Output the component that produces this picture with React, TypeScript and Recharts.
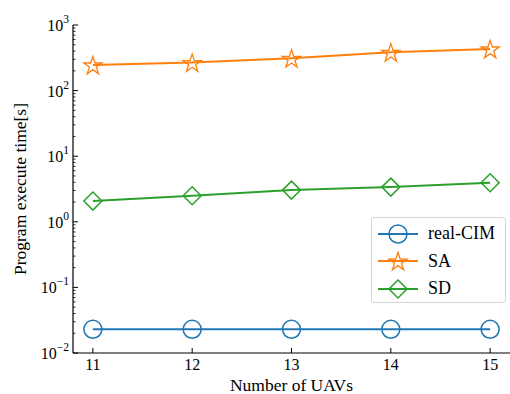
import { LineChart, Line, XAxis, YAxis, Legend } from 'recharts';

const uavCounts = [11, 12, 13, 14, 15];
const realCimTime = [0.023, 0.023, 0.023, 0.023, 0.023];
const saTime = [246, 267, 310, 384, 431];
const sdTime = [2.07, 2.49, 3.04, 3.38, 3.93];
const xTicks = [11, 12, 13, 14, 15];
const yExponents = [-2, -1, 0, 1, 2, 3];

const data = uavCounts.map((n, i) => ({
  n,
  realCim: realCimTime[i],
  sa: saTime[i],
  sd: sdTime[i],
}));

// major decades plus 2..9 minor ticks
const yTicks: number[] = [];
yExponents.forEach((e, i) => {
  yTicks.push(Math.pow(10, e));
  if (i < yExponents.length - 1) {
    for (let k = 2; k <= 9; k++) yTicks.push(k * Math.pow(10, e));
  }
});

const BLUE = '#1f77b4';
const ORANGE = '#ff7f0e';
const GREEN = '#2ca02c';
const FONT = "'Liberation Serif', 'Times New Roman', Times, serif";

const circleMark = (cx: number, cy: number, color: string, key?: any) => (
  <circle key={key} cx={cx} cy={cy} r={9} fill="none" stroke={color} strokeWidth={1.5} />
);

const starMark = (cx: number, cy: number, color: string, key?: any) => {
  const outer = 9.6;
  const inner = outer * 0.382;
  const pts: string[] = [];
  for (let i = 0; i < 10; i++) {
    const r = i % 2 === 0 ? outer : inner;
    const a = -Math.PI / 2 + (i * Math.PI) / 5;
    pts.push(`${cx + r * Math.cos(a)},${cy + r * Math.sin(a) + 1}`);
  }
  return <polygon key={key} points={pts.join(' ')} fill="none" stroke={color} strokeWidth={1.3} strokeLinejoin="miter" />;
};

const diamondMark = (cx: number, cy: number, color: string, key?: any) => {
  const d = 9;
  return (
    <polygon
      key={key}
      points={`${cx},${cy - d} ${cx + d},${cy} ${cx},${cy + d} ${cx - d},${cy}`}
      fill="none"
      stroke={color}
      strokeWidth={1.5}
    />
  );
};

const XTick = (props: any) => {
  const { x, y, payload } = props;
  return (
    <g>
      <line x1={x} y1={y} x2={x} y2={y - 5} stroke="#000" strokeWidth={1} />
      <text x={x} y={y + 17} textAnchor="middle" fontFamily={FONT} fontSize={16} fill="#000">
        {payload.value}
      </text>
    </g>
  );
};

const YTick = (props: any) => {
  const { x, y, payload } = props;
  const exp = Math.round(Math.log10(payload.value));
  const major = Math.abs(Math.log10(payload.value) - exp) < 1e-9;
  if (!major) {
    return <line x1={x} y1={y} x2={x + 2.5} y2={y} stroke="#000" strokeWidth={0.8} />;
  }
  const expText = exp < 0 ? `\u2212${-exp}` : `${exp}`;
  return (
    <g>
      <line x1={x} y1={y} x2={x + 5} y2={y} stroke="#000" strokeWidth={1} />
      <text x={x - 4} y={y + 6} textAnchor="end" fontFamily={FONT} fontSize={16} fill="#000">
        <tspan>10</tspan>
        <tspan dy={-8} fontSize={11.5}>{expText}</tspan>
      </text>
    </g>
  );
};

const legendItems = [
  { name: 'real-CIM', color: BLUE, mark: circleMark },
  { name: 'SA', color: ORANGE, mark: starMark },
  { name: 'SD', color: GREEN, mark: diamondMark },
];

const LegendBox = () => (
  <div
    style={{
      width: 135,
      height: 86,
      border: '1px solid #d4d4d4',
      borderRadius: 3,
      background: 'rgba(255,255,255,0.8)',
      boxSizing: 'border-box',
      paddingTop: 2,
    }}
  >
    {legendItems.map((item) => (
      <div key={item.name} style={{ display: 'flex', alignItems: 'center', height: 27.5 }}>
        <svg width={54} height={26} style={{ marginLeft: 1, flexShrink: 0 }}>
          <line x1={5} y1={13} x2={45} y2={13} stroke={item.color} strokeWidth={2} />
          {item.mark(25, 13, item.color)}
        </svg>
        <span style={{ fontFamily: FONT, fontSize: 18, color: '#000', marginLeft: 1, whiteSpace: 'nowrap' }}>{item.name}</span>
      </div>
    ))}
  </div>
);

export default function App() {
  return (
    <div style={{ position: 'absolute', left: 0, top: 0, width: 510, height: 394, background: '#fff', fontFamily: FONT }}>
      <LineChart width={510} height={394} data={data} margin={{ top: 25, right: 0, bottom: 0, left: 0 }} style={{ fontFamily: FONT }}>
        <XAxis
          dataKey="n"
          type="number"
          domain={[10.8, 15.2]}
          ticks={xTicks}
          interval={0}
          height={41}
          tickSize={0}
          tickMargin={0}
          tickLine={false}
          axisLine={{ stroke: '#000', strokeWidth: 1.2 }}
          tick={<XTick />}
          label={{ value: 'Number of UAVs', position: 'insideBottom', offset: 0, dy: -3, fontFamily: FONT, fontSize: 17.5, fill: '#000' }}
        />
        <YAxis
          scale="log"
          domain={[0.01, 1000]}
          ticks={yTicks}
          interval={0}
          width={73}
          tickSize={0}
          tickMargin={0}
          tickLine={false}
          allowDataOverflow
          axisLine={{ stroke: '#000', strokeWidth: 1.2 }}
          tick={<YTick />}
          label={{ value: 'Program execute time[s]', angle: -90, position: 'insideLeft', offset: 20, fontFamily: FONT, fontSize: 17.5, fill: '#000', textAnchor: 'middle' }}
        />
        <XAxis xAxisId="top" orientation="top" dataKey="n" type="number" domain={[10.8, 15.2]} height={0} tick={false} tickLine={false} axisLine={{ stroke: '#7a7a7a', strokeWidth: 2 }} />
        <Line
          dataKey="realCim"
          stroke={BLUE}
          strokeWidth={2}
          isAnimationActive={false}
          dot={(p: any) => circleMark(p.cx, p.cy, BLUE, p.key ?? p.index)}
          activeDot={false}
        />
        <Line
          dataKey="sa"
          stroke={ORANGE}
          strokeWidth={2}
          isAnimationActive={false}
          dot={(p: any) => starMark(p.cx, p.cy, ORANGE, p.key ?? p.index)}
          activeDot={false}
        />
        <Line
          dataKey="sd"
          stroke={GREEN}
          strokeWidth={2}
          isAnimationActive={false}
          dot={(p: any) => diamondMark(p.cx, p.cy, GREEN, p.key ?? p.index)}
          activeDot={false}
        />
        <Legend
          layout="horizontal"
          verticalAlign="middle"
          align="center"
          wrapperStyle={{ position: 'absolute', left: 371, top: 217, width: 'auto', right: 'auto', bottom: 'auto' }}
          content={() => <LegendBox />}
        />
      </LineChart>
    </div>
  );
}
